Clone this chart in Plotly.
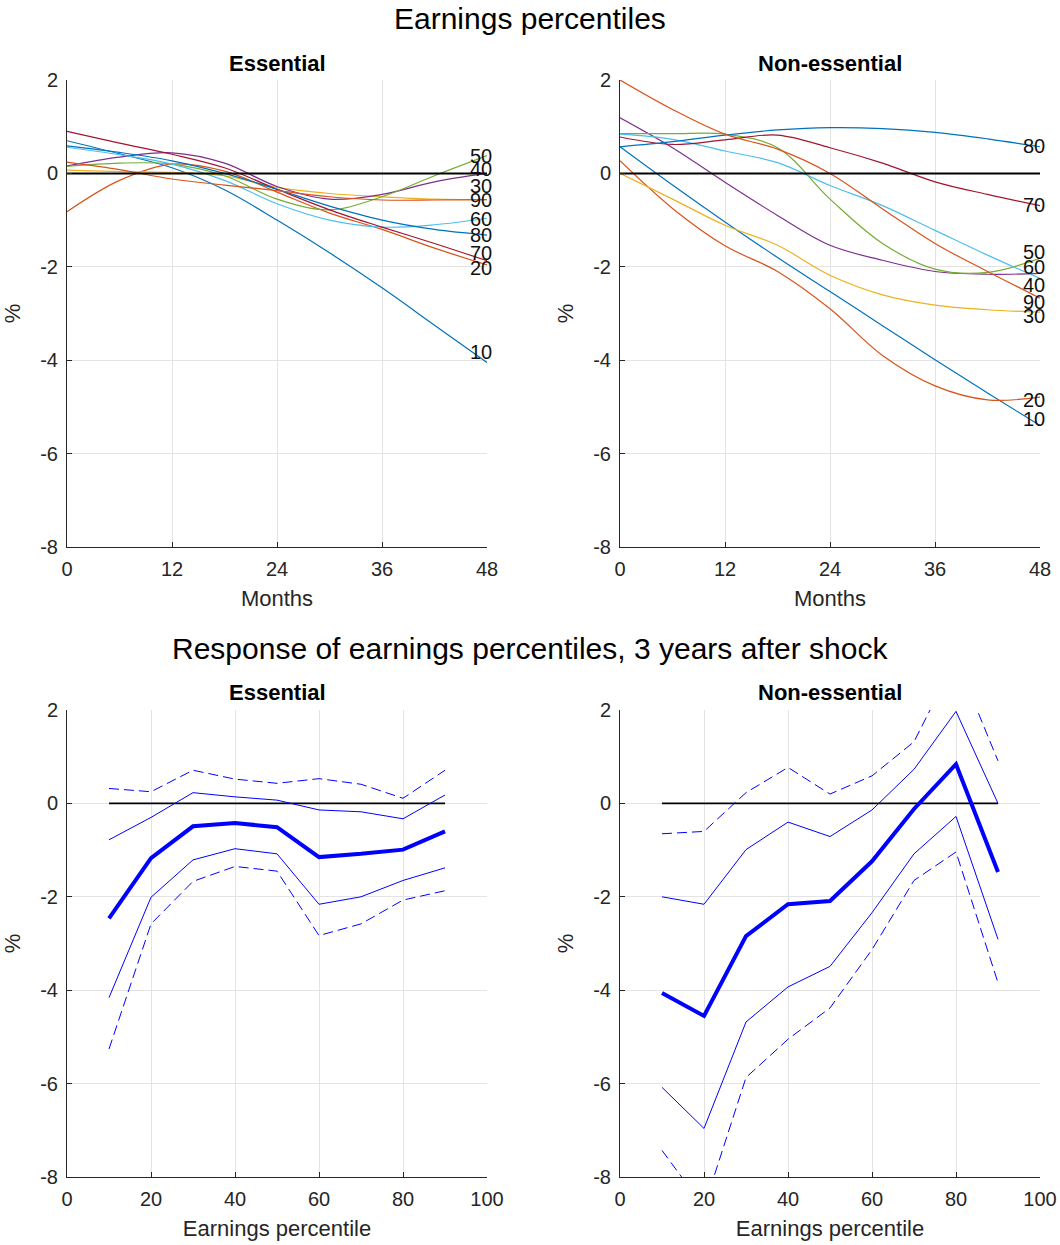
import plotly.graph_objects as go
from plotly.subplots import make_subplots

# Months after shock (top panels)
months = [0, 6, 12, 18, 24, 30, 36, 42, 48]

# Essential: earnings percentile paths (%)
ess_10 = [0.70, 0.42, 0.12, -0.35, -1.00, -1.70, -2.45, -3.25, -4.05]
ess_20 = [-0.82, -0.15, 0.20, 0.05, -0.40, -0.85, -1.20, -1.60, -1.96]
ess_30 = [0.07, 0.04, 0.02, -0.05, -0.30, -0.43, -0.50, -0.55, -0.56]
ess_40 = [0.16, 0.35, 0.44, 0.22, -0.28, -0.55, -0.45, -0.18, 0.00]
ess_50 = [0.15, 0.22, 0.20, -0.05, -0.55, -0.78, -0.50, -0.05, 0.38]
ess_60 = [0.56, 0.40, 0.20, -0.15, -0.65, -1.00, -1.15, -1.10, -0.96]
ess_70 = [0.90, 0.65, 0.41, 0.12, -0.34, -0.78, -1.15, -1.50, -1.87]
ess_80 = [0.59, 0.45, 0.27, 0.00, -0.34, -0.70, -1.00, -1.20, -1.32]
ess_90 = [0.24, 0.08, -0.12, -0.25, -0.37, -0.50, -0.57, -0.57, -0.56]

# Non-essential: earnings percentile paths (%)
non_10 = [0.57, -0.25, -1.04, -1.80, -2.53, -3.26, -3.99, -4.70, -5.40]
non_20 = [0.27, -0.75, -1.55, -2.10, -2.90, -3.90, -4.55, -4.85, -4.79]
non_30 = [0.00, -0.55, -1.11, -1.54, -2.18, -2.60, -2.82, -2.92, -2.97]
non_40 = [1.19, 0.55, -0.19, -0.90, -1.54, -1.86, -2.10, -2.16, -2.14]
non_50 = [0.85, 0.85, 0.84, 0.55, -0.55, -1.50, -2.05, -2.12, -1.82]
non_60 = [0.84, 0.73, 0.48, 0.23, -0.26, -0.69, -1.22, -1.75, -2.25]
non_70 = [0.78, 0.62, 0.72, 0.82, 0.55, 0.22, -0.18, -0.45, -0.69]
non_80 = [0.57, 0.68, 0.82, 0.93, 0.98, 0.96, 0.88, 0.74, 0.57]
non_90 = [2.00, 1.37, 0.84, 0.52, 0.00, -0.76, -1.50, -2.10, -2.67]

percentiles = [10, 20, 30, 40, 50, 60, 70, 80, 90]

# Response 3 years after shock (bottom panels)
ess_point = [-2.46, -1.17, -0.49, -0.42, -0.51, -1.15, -1.08, -0.99, -0.60]
ess_up68 = [-0.78, -0.30, 0.23, 0.14, 0.07, -0.14, -0.18, -0.33, 0.18]
ess_lo68 = [-4.16, -2.01, -1.21, -0.97, -1.08, -2.16, -2.00, -1.65, -1.38]
ess_up90 = [0.32, 0.25, 0.71, 0.52, 0.43, 0.53, 0.41, 0.11, 0.71]
ess_lo90 = [-5.26, -2.58, -1.67, -1.35, -1.45, -2.83, -2.58, -2.07, -1.87]

non_point = [-4.06, -4.55, -2.84, -2.16, -2.09, -1.24, -0.12, 0.84, -1.47]
non_up68 = [-2.00, -2.16, -0.99, -0.40, -0.71, -0.14, 0.73, 1.97, 0.00]
non_lo68 = [-6.08, -6.96, -4.68, -3.93, -3.49, -2.34, -1.08, -0.28, -2.91]
non_up90 = [-0.65, -0.60, 0.23, 0.77, 0.20, 0.59, 1.32, 3.10, 0.91]
non_lo90 = [-7.43, -8.65, -5.87, -5.05, -4.38, -3.13, -1.65, -1.04, -3.84]

ess_paths = [ess_10, ess_20, ess_30, ess_40, ess_50, ess_60, ess_70, ess_80, ess_90]
non_paths = [non_10, non_20, non_30, non_40, non_50, non_60, non_70, non_80, non_90]

# label nudges (px) so the end labels sit like in the original
ess_nudge = [11, -3, 14, 4, 0, -1, 8, 0, 0]
non_nudge = [7, -3, -4, -12, 6, 11, 1, 1, -4]

# MATLAB default colour order
colors = ['#0072BD', '#D95319', '#EDB120', '#7E2F8E', '#77AC30',
          '#4DBEEE', '#A2142F', '#0072BD', '#D95319']

W, H = 1060, 1245
fig = make_subplots(rows=2, cols=2)

# Top panels: percentile paths with end labels
for col, paths, nudge in [(1, ess_paths, ess_nudge), (2, non_paths, non_nudge)]:
    for p, vals, c in zip(percentiles, paths, colors):
        fig.add_trace(go.Scatter(x=months, y=vals, mode='lines',
                                 line=dict(color=c, width=1.2, shape='spline'),
                                 showlegend=False), row=1, col=col)
    fig.add_trace(go.Scatter(x=[months[0], months[-1]], y=[0, 0], mode='lines',
                             line=dict(color='black', width=2), showlegend=False),
                  row=1, col=col)
    for p, vals, dy in zip(percentiles, paths, nudge):
        fig.add_annotation(x=months[-1], y=vals[-1], text=str(p), showarrow=False,
                           xanchor='center', xshift=-6, yshift=dy,
                           font=dict(size=20, color='#111'), row=1, col=col)

# Bottom panels: point estimate with bands
for col, (pt, u68, l68, u90, l90) in [
        (1, (ess_point, ess_up68, ess_lo68, ess_up90, ess_lo90)),
        (2, (non_point, non_up68, non_lo68, non_up90, non_lo90))]:
    fig.add_trace(go.Scatter(x=[percentiles[0], percentiles[-1]], y=[0, 0], mode='lines',
                             line=dict(color='black', width=1.8), showlegend=False),
                  row=2, col=col)
    for ys in (u90, l90):
        fig.add_trace(go.Scatter(x=percentiles, y=ys, mode='lines',
                                 line=dict(color='#0000FF', width=1, dash='10px,5px'),
                                 showlegend=False), row=2, col=col)
    for ys in (u68, l68):
        fig.add_trace(go.Scatter(x=percentiles, y=ys, mode='lines',
                                 line=dict(color='#0000FF', width=1), showlegend=False),
                      row=2, col=col)
    fig.add_trace(go.Scatter(x=percentiles, y=pt, mode='lines',
                             line=dict(color='#0000FF', width=4), showlegend=False),
                  row=2, col=col)

# Axes in pixel-based domains
xdom = [(67 / W, 487 / W), (620 / W, 1040 / W)]
ydom = [(1 - 547 / H, 1 - 80 / H), (1 - 1177 / H, 1 - 710 / H)]
axis_style = dict(showgrid=True, gridcolor='#e3e3e3', gridwidth=1, zeroline=False,
                  showline=True, linecolor='#262626', linewidth=1, ticks='inside',
                  ticklen=5, tickcolor='#262626', tickfont=dict(size=20, color='#262626'),
                  automargin=False)
title_font = dict(size=22, color='#262626')
yticks = [-8, -6, -4, -2, 0, 2]
for r in (1, 2):
    for c in (1, 2):
        if r == 1:
            fig.update_xaxes(range=[0, 48], tickvals=[0, 12, 24, 36, 48],
                             title=dict(text='Months', font=title_font, standoff=11),
                             row=r, col=c, **axis_style)
        else:
            fig.update_xaxes(range=[0, 100], tickvals=[0, 20, 40, 60, 80, 100],
                             title=dict(text='Earnings percentile', font=title_font,
                                        standoff=11),
                             row=r, col=c, **axis_style)
        fig.update_xaxes(domain=list(xdom[c - 1]), ticklabelstandoff=4, row=r, col=c)
        fig.update_yaxes(range=[-8, 2], tickvals=yticks,
                         ticktext=[str(v) for v in yticks], domain=list(ydom[r - 1]),
                         ticklabelstandoff=4,
                         title=dict(text='%', font=title_font, standoff=13),
                         row=r, col=c, **axis_style)

# Titles
titles = [(0.5, 1 - 18 / H, 'Earnings percentiles', 30),
          (0.5, 1 - 648 / H, 'Response of earnings percentiles, 3 years after shock', 30),
          (277 / W, 1 - 63 / H, '<b>Essential</b>', 22),
          (830 / W, 1 - 63 / H, '<b>Non-essential</b>', 22),
          (277 / W, 1 - 692 / H, '<b>Essential</b>', 22),
          (830 / W, 1 - 692 / H, '<b>Non-essential</b>', 22)]
for x, y, t, s in titles:
    fig.add_annotation(x=x, y=y, xref='paper', yref='paper', text=t, showarrow=False,
                       xanchor='center', yanchor='middle',
                       font=dict(size=s, color='#000000'))

fig.update_layout(width=W, height=H, margin=dict(l=0, r=0, t=0, b=0),
                  plot_bgcolor='white', paper_bgcolor='white',
                  font=dict(family='Liberation Sans, Arial, sans-serif'))

fig.write_html("out.html", config={'displayModeBar': False},
               post_script="document.body.style.margin='0';")
